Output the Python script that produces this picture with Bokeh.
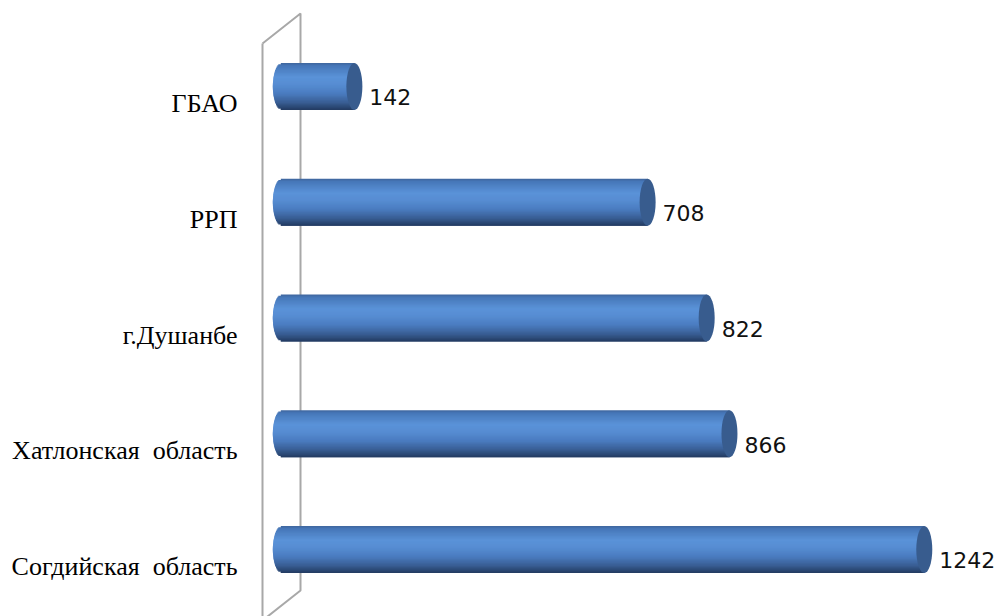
import numpy as np
from bokeh.plotting import figure
from bokeh.models import Range1d, FixedTicker, ColumnDataSource
from bokeh.core.properties import value
from bokeh.embed import file_html
from bokeh.resources import INLINE

# ---- data ----
categories = ["Согдийская\u00a0 область", "Хатлонская\u00a0 область", "г.Душанбе", "РРП", "ГБАО"]
values = [1242, 866, 822, 708, 142]

# ---- layout constants ----
W, H = 1005, 616
FRAME_LEFT = 250
PX_X = 0.5181      # pixels per data unit (x)
PX_Y = 115.75      # pixels per category step (y)
X0 = -(288.3 - FRAME_LEFT) / PX_X
X1 = X0 + (W - FRAME_LEFT) / PX_X
Y1 = 4 + 103 / PX_Y
Y0 = Y1 - H / PX_Y
BAR_OFF = 0.147    # bar centre above tick (pseudo-3D shift)
BAR_H = 47 / PX_Y  # bar thickness in y units
CAP_A = 8 / PX_X   # half width of elliptical caps in x units

p = figure(width=W, height=H, output_backend="svg", toolbar_location=None,
           x_range=Range1d(X0, X1), y_range=Range1d(Y0, Y1),
           x_axis_location=None, min_border_left=FRAME_LEFT, min_border_right=0,
           min_border_top=0, min_border_bottom=0)
p.grid.visible = False
p.outline_line_color = None
p.background_fill_color = "white"
p.border_fill_color = "white"

# ---- wall (side plane) ----
front_x = -26.3 / PX_X
back_x = 11.7 / PX_X
top_back = Y1 - 13 / PX_Y
top_front = Y1 - 43 / PX_Y
bot_back = Y1 - 590 / PX_Y
bot_front = Y1 - 620 / PX_Y
wall_col = "#a8a8a8"
p.line([front_x, back_x, back_x, front_x], [top_front, top_back, bot_back, bot_front],
       line_color=wall_col, line_width=2)
p.line([front_x, front_x], [top_front, bot_front], line_color=wall_col, line_width=2)

# ---- cylinder bars ----
stops_t = [0.0, 0.06, 0.30, 0.45, 0.65, 0.85, 1.0]
stops_c = ["#3e659c", "#4677b8", "#5a92d8", "#578dd3", "#4a7cc0", "#385c91", "#223a60"]
def hex2rgb(h):
    return np.array([int(h[1:3], 16), int(h[3:5], 16), int(h[5:7], 16)], dtype=float)
stops_rgb = np.array([hex2rgb(c) for c in stops_c])
def grad(t):
    rgb = [np.interp(t, stops_t, stops_rgb[:, j]) for j in range(3)]
    return "#%02x%02x%02x" % tuple(int(round(v)) for v in rgb)

def left_at(r):
    return -CAP_A - CAP_A * np.sqrt(max(0.0, 1 - r * r))

N = 40
s = BAR_H / N
tops, bots, lefts, rights, cols = [], [], [], [], []
for i, v in enumerate(values):
    yc = i + BAR_OFF
    ytop = yc + BAR_H / 2
    for k in range(N):
        t = (k + 0.5) / N
        top = ytop - k * s
        bot = max(ytop - BAR_H, top - 2 * s)
        r_top = (top - yc) / (BAR_H / 2)
        r_bot = (bot - yc) / (BAR_H / 2)
        tops.append(top)
        bots.append(bot)
        lefts.append(max(left_at(r_top), left_at(r_bot)))
        rights.append(v - CAP_A)
        cols.append(grad(t))
src = ColumnDataSource(dict(top=tops, bottom=bots, left=lefts, right=rights, c=cols))
p.quad(top="top", bottom="bottom", left="left", right="right", fill_color="c",
       line_color=None, source=src)

cap_src = ColumnDataSource(dict(
    x=[v - CAP_A for v in values],
    y=[i + BAR_OFF for i in range(len(values))]))
p.ellipse(x="x", y="y", width=2 * CAP_A, height=BAR_H, fill_color="#385c8e",
          line_color=None, source=cap_src)

# ---- value labels ----
lab_src = ColumnDataSource(dict(x=values, y=[i + BAR_OFF for i in range(len(values))],
                                t=[str(v) for v in values]))
p.text(x="x", y="y", text="t", source=lab_src, x_offset=7, y_offset=11,
       text_baseline="middle", text_align="left", text_font=value("DejaVu Sans"),
       text_font_size="22px", text_color="#111111")

# ---- category axis ----
ax = p.yaxis[0]
ax.ticker = FixedTicker(ticks=list(range(len(categories))))
ax.major_label_overrides = {i: c for i, c in enumerate(categories)}
ax.axis_line_color = None
ax.major_tick_line_color = None
ax.minor_tick_line_color = None
ax.major_tick_out = 0
ax.major_tick_in = 0
ax.major_label_standoff = 13
ax.major_label_text_font = "Liberation Serif"
ax.major_label_text_font_size = "26px"
ax.major_label_text_color = "black"

open("out.html", "w").write(file_html(p, INLINE))
